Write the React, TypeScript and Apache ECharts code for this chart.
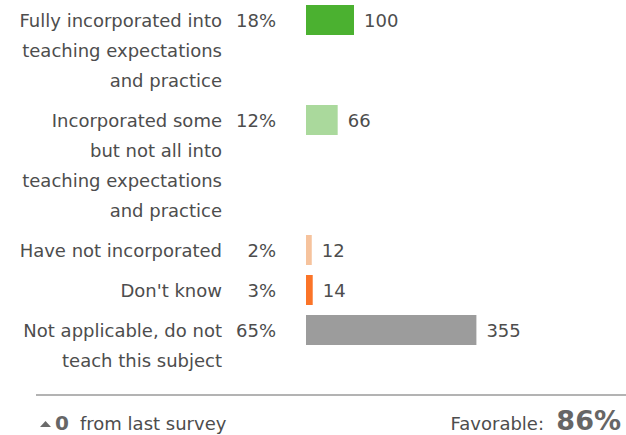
import React, { useEffect, useRef } from "react";
import * as echarts from "echarts";

const categories: string[] = [
  "Fully incorporated into\nteaching expectations\nand practice",
  "Incorporated some\nbut not all into\nteaching expectations\nand practice",
  "Have not incorporated",
  "Don't know",
  "Not applicable, do not\nteach this subject",
];
const counts: number[] = [100, 66, 12, 14, 355];
const percents: string[] = ["18%", "12%", "2%", "3%", "65%"];
const barColors: string[] = ["#4bb130", "#aad99c", "#f6c39d", "#fb7428", "#9c9c9c"];
const changeValue = "0";
const changeText = "from last survey";
const favorableLabel = "Favorable:";
const favorableValue = "86%";

const TEXT = "#4d4d4d";
const FONT = "'DejaVu Sans', 'Open Sans', sans-serif";
const FS = 18;

export default function App() {
  const ref = useRef<HTMLDivElement>(null);
  useEffect(() => {
    if (!ref.current) return;
    const chart = echarts.init(ref.current, undefined, { renderer: "svg" });
    // row positions in line units (each line = 1 unit, gap between rows 1/3 unit)
    const rowPos: number[] = [];
    let acc = 0;
    categories.forEach((c) => {
      rowPos.push(acc);
      acc += c.split("\n").length + 1 / 3;
    });
    const data = counts.map((v, i) => [v, rowPos[i], i]);
    chart.setOption({
      animation: false,
      grid: { left: 306, top: 5, width: 192, height: 375 },
      xAxis: { type: "value", min: 0, max: 400, show: false },
      yAxis: { type: "value", min: -0.5, max: 12, inverse: true, show: false },
      series: [
        {
          type: "custom",
          data,
          encode: { x: 0, y: 1 },
          renderItem: (params: any, api: any) => {
            const v = api.value(0);
            const yv = api.value(1);
            const idx = api.value(2);
            const start = api.coord([0, yv]);
            const end = api.coord([v, yv]);
            const h = api.size([0, 1])[1];
            const top = start[1] - h / 2;
            return {
              type: "group",
              children: [
                {
                  type: "rect",
                  shape: { x: start[0], y: top, width: end[0] - start[0], height: h },
                  style: { fill: barColors[idx] },
                },
                {
                  type: "text",
                  x: start[0] - 84,
                  y: top,
                  style: {
                    text: categories[idx],
                    align: "right",
                    verticalAlign: "top",
                    lineHeight: 30,
                    fontSize: FS,
                    fontFamily: FONT,
                    fill: TEXT,
                  },
                },
                {
                  type: "text",
                  x: start[0] - 30,
                  y: start[1],
                  style: {
                    text: percents[idx],
                    align: "right",
                    verticalAlign: "middle",
                    fontSize: FS,
                    fontFamily: FONT,
                    fill: TEXT,
                  },
                },
                {
                  type: "text",
                  x: end[0] + 10,
                  y: start[1],
                  style: {
                    text: String(v),
                    align: "left",
                    verticalAlign: "middle",
                    fontSize: FS,
                    fontFamily: FONT,
                    fill: TEXT,
                  },
                },
              ],
            };
          },
        },
      ],
      graphic: [
        {
          type: "line",
          shape: { x1: 36, y1: 395, x2: 626, y2: 395 },
          style: { stroke: "#9a9a9a", lineWidth: 1.5 },
        },
        {
          type: "polygon",
          shape: { points: [[40, 427], [51, 427], [45.5, 421]] },
          style: { fill: "#6a6a6a" },
        },
        {
          type: "text",
          x: 55,
          y: 423,
          style: {
            text: changeValue,
            fontSize: 20,
            lineHeight: 20,
            fontWeight: "bold",
            fontFamily: FONT,
            fill: "#666",
            verticalAlign: "middle",
          },
        },
        {
          type: "text",
          x: 80,
          y: 423,
          style: {
            text: changeText,
            fontSize: FS,
            fontFamily: FONT,
            fill: TEXT,
            verticalAlign: "middle",
          },
        },
        {
          type: "text",
          x: 544,
          y: 423,
          style: {
            text: favorableLabel,
            fontSize: FS,
            fontFamily: FONT,
            fill: TEXT,
            align: "right",
            verticalAlign: "middle",
          },
        },
        {
          type: "text",
          x: 621,
          y: 420,
          style: {
            text: favorableValue,
            fontSize: 27,
            lineHeight: 24,
            fontWeight: "bold",
            fontFamily: FONT,
            fill: "#666",
            align: "right",
            verticalAlign: "middle",
          },
        },
      ],
    });
    return () => chart.dispose();
  }, []);
  return <div ref={ref} style={{ width: 626, height: 435, position: "absolute", left: 0, top: 0 }} />;
}
